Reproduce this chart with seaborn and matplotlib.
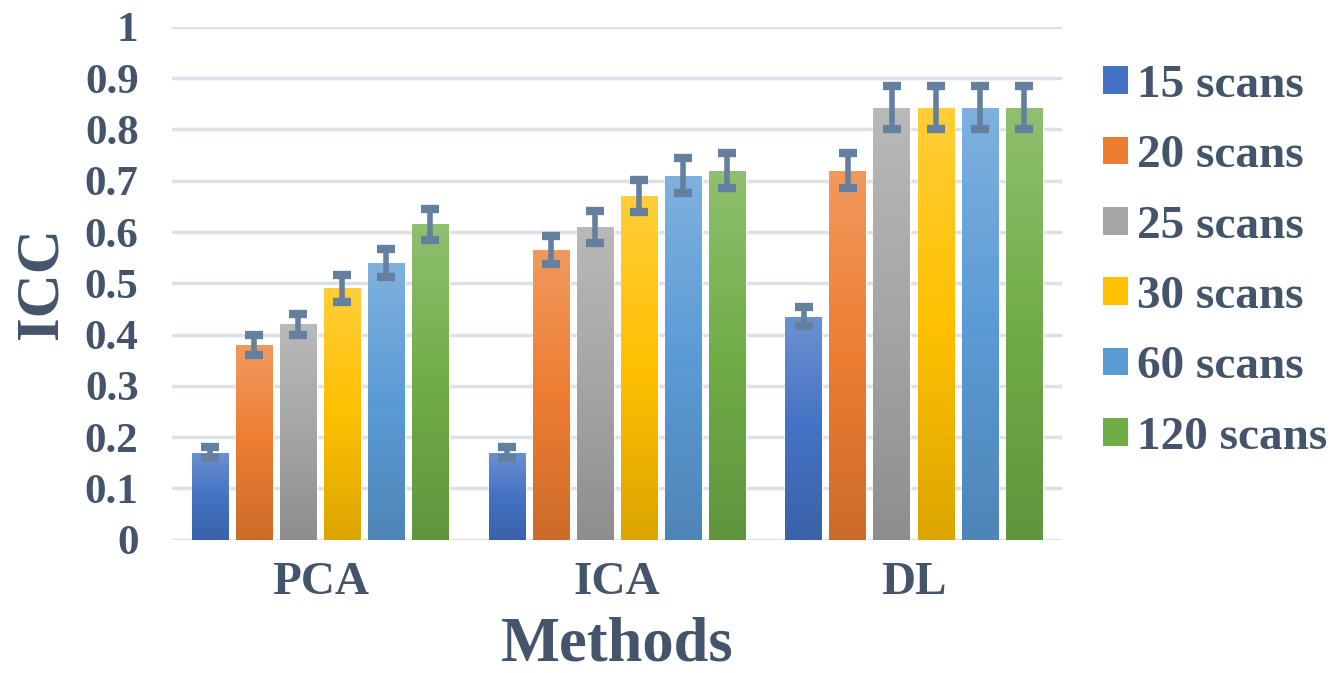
import matplotlib
matplotlib.use("Agg")
import matplotlib.pyplot as plt
import numpy as np
import pandas as pd
import seaborn as sns
from matplotlib.colors import LinearSegmentedColormap, to_rgb
from matplotlib.patches import Patch

# Data
methods = ["PCA", "ICA", "DL"]
scans = ["15 scans", "20 scans", "25 scans", "30 scans", "60 scans", "120 scans"]
icc_pca = [0.17, 0.38, 0.42, 0.49, 0.54, 0.615]
icc_ica = [0.17, 0.565, 0.61, 0.67, 0.71, 0.72]
icc_dl = [0.435, 0.72, 0.842, 0.842, 0.842, 0.842]
err_pca = [0.01, 0.02, 0.02, 0.027, 0.027, 0.03]
err_ica = [0.01, 0.027, 0.031, 0.031, 0.034, 0.035]
err_dl = [0.019, 0.035, 0.042, 0.042, 0.042, 0.042]
colors = ["#4472C4", "#ED7D31", "#A5A5A5", "#FFC000", "#5B9BD5", "#70AD47"]

rows = []
for m, vals, errs in zip(methods, [icc_pca, icc_ica, icc_dl], [err_pca, err_ica, err_dl]):
    for s, v, e in zip(scans, vals, errs):
        rows.append({"Method": m, "Scans": s, "ICC": v, "Err": e})
df = pd.DataFrame(rows)

sns.set_style("white")
plt.rcParams["font.family"] = ["Liberation Serif", "DejaVu Serif"]
plt.rcParams["font.weight"] = "bold"
txt = "#44546A"

fig = plt.figure(figsize=(13.33, 6.73), dpi=100)
ax = fig.add_axes([0.129, 0.198, 0.668, 0.762])

sns.barplot(data=df, x="Method", y="ICC", hue="Scans", order=methods, hue_order=scans,
            palette=colors, width=0.89, gap=0.16, errorbar=None, legend=False, ax=ax,
            zorder=3)

# Excel-like vertical gradient on each bar
grad = np.linspace(0, 1, 256).reshape(-1, 1)
for cont, c in zip(ax.containers, colors):
    base = np.array(to_rgb(c))
    cmap = LinearSegmentedColormap.from_list("g", [base * 0.86, base, base + (1 - base) * 0.22])
    for bar in cont:
        x, w, h = bar.get_x(), bar.get_width(), bar.get_height()
        im = ax.imshow(grad, extent=[x, x + w, 0, h], origin="lower", aspect="auto",
                       cmap=cmap, zorder=3.5)
        im.set_clip_path(bar)

# Error bars
for cont, s in zip(ax.containers, scans):
    for bar, m in zip(cont, methods):
        e = df.loc[(df.Method == m) & (df.Scans == s), "Err"].item()
        ax.errorbar(bar.get_x() + bar.get_width() / 2, bar.get_height(), yerr=e,
                    fmt="none", ecolor="#657F9E", elinewidth=4, capsize=6.8,
                    capthick=6, zorder=5)

ax.set_xlim(-0.5, 2.5)
ax.set_ylim(0, 1)
ax.set_yticks(np.arange(0, 1.01, 0.1))
ax.set_yticklabels(["0", "0.1", "0.2", "0.3", "0.4", "0.5", "0.6", "0.7", "0.8", "0.9", "1"])
ax.yaxis.grid(True, color="#DDE1E7", linewidth=2.5, zorder=0)
ax.set_axisbelow(True)
for sp in ax.spines.values():
    sp.set_visible(False)
ax.tick_params(axis="y", length=0, pad=24, labelsize=31, labelcolor=txt)
ax.tick_params(axis="x", length=0, pad=16, labelsize=34, labelcolor=txt)
for lab in ax.get_xticklabels() + ax.get_yticklabels():
    lab.set_fontweight("bold")

ax.set_xlabel("Methods", fontsize=45, fontweight="bold", color=txt, labelpad=9)
ax.set_ylabel("ICC", fontsize=44, fontweight="bold", color=txt, labelpad=11)

handles = [Patch(facecolor=c, edgecolor="none") for c in colors]
leg = ax.legend(handles, scans, loc="center left", bbox_to_anchor=(1.046, 0.542),
                frameon=False, fontsize=34, handlelength=0.52, handleheight=0.52,
                handletextpad=0.2, labelspacing=0.6, borderpad=0, borderaxespad=0)
for t in leg.get_texts():
    t.set_color(txt)
    t.set_fontweight("bold")

fig.savefig("out.png", dpi=100)
